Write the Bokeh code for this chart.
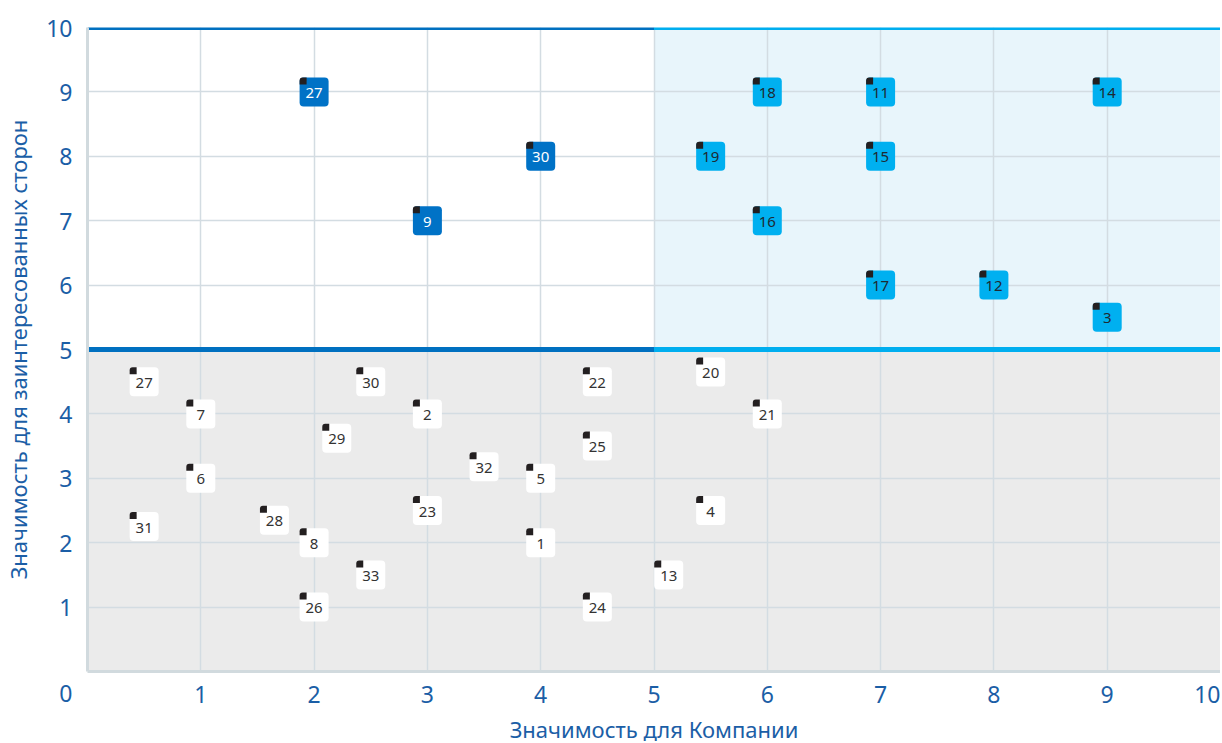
from bokeh.plotting import figure
from bokeh.models import ColumnDataSource, FixedTicker
from bokeh.transform import dodge
from bokeh.core.properties import value
from bokeh.embed import file_html
from bokeh.resources import INLINE

# ---- data ----
labels = ["27", "30", "9",
          "18", "11", "14", "19", "15", "16", "17", "12", "3",
          "27", "30", "22", "20", "7", "2", "21", "29", "25", "32", "6", "5",
          "4", "23", "31", "28", "8", "1", "33", "13", "26", "24"]
company = [2, 4, 3,
           6, 7, 9, 5.5, 7, 6, 7, 8, 9,
           0.5, 2.5, 4.5, 5.5, 1, 3, 6, 2.2, 4.5, 3.5, 1, 4,
           5.5, 3, 0.5, 1.65, 2, 4, 2.5, 5.13, 2, 4.5]
stakeholders = [9, 8, 7,
                9, 9, 9, 8, 8, 7, 6, 6, 5.5,
                4.5, 4.5, 4.5, 4.65, 4, 4, 4, 3.62, 3.5, 3.18, 3, 3,
                2.5, 2.5, 2.25, 2.35, 2, 2, 1.5, 1.5, 1, 1]
groups = ["dark"] * 3 + ["light"] * 9 + ["white"] * 22

x_ticks = list(range(0, 11))
y_ticks = list(range(0, 11))
x_label_ticks = list(range(1, 11))
y_label_ticks = list(range(0, 11))
origin_label = "0"
threshold = 5

box_colors = {"dark": "#0072c6", "light": "#00b0f0", "white": "#ffffff"}
text_colors = {"dark": "#ffffff", "light": "#1e2a33", "white": "#333333"}

FONT = "Noto Sans"
LABEL_BLUE = "#1b5ea6"

FW, FH = 1133, 644
BOX = 29
CORNER = 7
sx = FW / 10.0
sy = FH / 10.0
off_px = BOX / 2 - CORNER / 2

src = ColumnDataSource(dict(
    x=company, y=stakeholders, label=labels,
    fill=[box_colors[g] for g in groups],
    tcol=[text_colors[g] for g in groups],
))

p = figure(frame_width=FW, frame_height=FH, x_range=(0, 10), y_range=(0, 10),
           output_backend="svg", toolbar_location=None,
           min_border_top=27, min_border_right=0, min_border_left=10,
           min_border_bottom=0, background_fill_color="#ffffff",
           border_fill_color="#ffffff", outline_line_color=None)

# quadrant fills
p.quad(left=[0], right=[threshold], bottom=[threshold], top=[10],
       fill_color="#ffffff", line_color=None, level="image")
p.quad(left=[threshold], right=[10], bottom=[threshold], top=[10],
       fill_color="#e8f5fb", line_color=None, level="image")
p.quad(left=[0], right=[10], bottom=[0], top=[threshold],
       fill_color="#ebebeb", line_color=None, level="image")

# grid
p.xgrid.ticker = FixedTicker(ticks=x_ticks)
p.ygrid.ticker = FixedTicker(ticks=y_ticks)
p.grid.grid_line_color = "#d3dce2"
p.grid.grid_line_width = 1.5

# thick quadrant lines
for yv in (10, threshold):
    p.line(x=[0, threshold], y=[yv, yv], line_color="#0070c0", line_width=5)
    p.line(x=[threshold, 10], y=[yv, yv], line_color="#00aeef", line_width=5)

# boxes
p.rect(x="x", y="y", width=BOX, height=BOX, width_units="screen",
       height_units="screen", fill_color="fill", line_color=None,
       border_radius=4, source=src)
p.rect(x=dodge("x", -off_px / sx), y=dodge("y", off_px / sy), width=CORNER,
       height=CORNER, width_units="screen", height_units="screen",
       fill_color="#231f20", line_color=None, border_radius=(3, 0, 0, 0),
       source=src)
p.text(x="x", y="y", text="label", text_color="tcol", text_align="center",
       text_baseline="middle", text_font=value(FONT), text_font_size="15px",
       y_offset=1, source=src)

# axes
for ax in (p.xaxis[0], p.yaxis[0]):
    ax.major_tick_line_color = None
    ax.minor_tick_line_color = None
    ax.axis_line_color = "#d1dade"
    ax.axis_line_width = 3
    ax.major_label_text_font = FONT
    ax.major_label_text_font_size = "23px"
    ax.major_label_text_color = LABEL_BLUE
    ax.axis_label_text_font = FONT
    ax.axis_label_text_font_size = "22px"
    ax.axis_label_text_font_style = "normal"
    ax.axis_label_text_color = LABEL_BLUE
p.xaxis[0].ticker = FixedTicker(ticks=x_label_ticks)
p.yaxis[0].ticker = FixedTicker(ticks=y_label_ticks)
# the shared origin label sits below the corner, as in the reference
p.yaxis[0].major_label_overrides = {0: "\n" + origin_label}
p.yaxis[0].major_label_text_line_height = 1.35

p.xaxis.axis_label = "Значимость для Компании"
p.yaxis.axis_label = "Значимость для заинтересованных сторон"
p.xaxis.major_label_standoff = 8
p.xaxis.axis_label_standoff = 8
p.yaxis.major_label_standoff = 9
p.yaxis.axis_label_standoff = 10

open("out.html", "w").write(file_html(p, INLINE))
